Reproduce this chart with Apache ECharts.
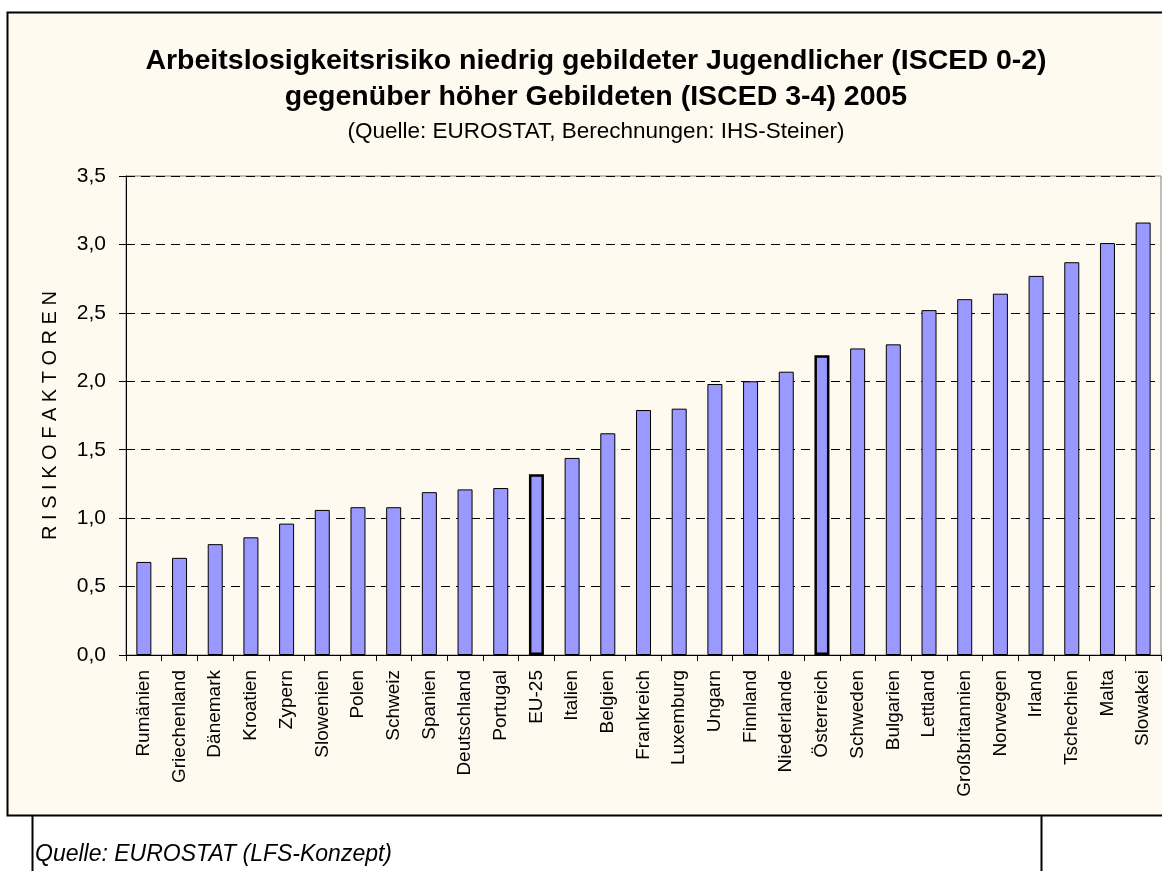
<!DOCTYPE html>
<html lang="de">
<head>
    <meta charset="UTF-8">
    <title>Arbeitslosigkeitsrisiko 2005</title>
    <script src="https://cdn.jsdelivr.net/npm/echarts@6/dist/echarts.min.js"></script>
    <style>
        html, body { margin: 0; padding: 0; background: #fff; }
        #chart { width: 1162px; height: 871px; }
    </style>
</head>
<body>
    <div id="chart"></div>
    <script>
        // Länder, sortiert nach Risikofaktor
        const laender = ['Rumänien', 'Griechenland', 'Dänemark', 'Kroatien', 'Zypern', 'Slowenien', 'Polen', 'Schweiz',
            'Spanien', 'Deutschland', 'Portugal', 'EU-25', 'Italien', 'Belgien', 'Frankreich', 'Luxemburg', 'Ungarn',
            'Finnland', 'Niederlande', 'Österreich', 'Schweden', 'Bulgarien', 'Lettland', 'Großbritannien', 'Norwegen',
            'Irland', 'Tschechien', 'Malta', 'Slowakei'];
        const risiko = [0.68, 0.71, 0.81, 0.86, 0.96, 1.06, 1.08, 1.08, 1.19, 1.21, 1.22, 1.32, 1.44, 1.62, 1.79, 1.80,
            1.98, 2.00, 2.07, 2.19, 2.24, 2.27, 2.52, 2.60, 2.64, 2.77, 2.87, 3.01, 3.16];
        const hervorgehoben = ['EU-25', 'Österreich'];
        const yTicks = [0, 0.5, 1, 1.5, 2, 2.5, 3, 3.5];

        const font = 'Arial, "Liberation Sans", sans-serif';
        const chart = echarts.init(document.getElementById('chart'));

        const option = {
            backgroundColor: '#ffffff',
            animation: false,
            textStyle: { fontFamily: font },
            graphic: [
                // Rahmen des Diagramms
                { type: 'rect', z: -10, shape: { x: 7.5, y: 12.5, width: 1170, height: 803 },
                  style: { fill: '#fffaef', stroke: '#000', lineWidth: 2 } },
                // Linien unter dem Diagramm
                { type: 'line', shape: { x1: 32.5, y1: 816, x2: 32.5, y2: 871 }, style: { stroke: '#000', lineWidth: 2 } },
                { type: 'line', shape: { x1: 1041.5, y1: 816, x2: 1041.5, y2: 871 }, style: { stroke: '#000', lineWidth: 2 } },
                { type: 'text', left: 35, top: 843,
                  style: { text: 'Quelle: EUROSTAT (LFS-Konzept)', font: 'italic 23px ' + font, fill: '#000' } }
            ],
            title: [
                { text: 'Arbeitslosigkeitsrisiko niedrig gebildeter Jugendlicher (ISCED 0-2)\ngegenüber höher Gebildeten (ISCED 3-4) 2005',
                  left: 591, top: 38, textAlign: 'center',
                  textStyle: { fontSize: 28.5, fontWeight: 'bold', color: '#000', lineHeight: 36, fontFamily: font } },
                { text: '(Quelle: EUROSTAT, Berechnungen: IHS-Steiner)',
                  left: 591, top: 115, textAlign: 'center',
                  textStyle: { fontSize: 22.5, fontWeight: 'normal', color: '#000', fontFamily: font } }
            ],
            grid: {
                left: 126, top: 176, right: 1, bottom: 216,
                show: true, borderColor: '#808080', borderWidth: 1, backgroundColor: 'transparent'
            },
            xAxis: {
                type: 'category',
                data: laender,
                axisLine: { lineStyle: { color: '#000', width: 1 } },
                axisTick: { show: true, length: 6, lineStyle: { color: '#000' } },
                axisLabel: { rotate: 90, fontSize: 19, color: '#000', margin: 15, interval: 0, fontFamily: font }
            },
            yAxis: {
                type: 'value',
                min: 0, max: 3.5, interval: 0.5,
                name: 'R I S I K O F A K T O R E N',
                nameLocation: 'middle',
                nameGap: 66,
                nameRotate: 90,
                nameTextStyle: { fontSize: 20, color: '#000', fontFamily: font },
                axisLine: { show: true, lineStyle: { color: '#000', width: 1 } },
                axisTick: { show: true, inside: false, length: 7, lineStyle: { color: '#000' } },
                axisLabel: {
                    fontSize: 21, color: '#000', margin: 20, fontFamily: font,
                    formatter: v => yTicks.includes(v) ? v.toFixed(1).replace('.', ',') : ''
                },
                splitLine: { show: true, lineStyle: { color: '#000', type: [9, 6], width: 1 } }
            },
            series: [{
                type: 'bar',
                barWidth: 15,
                data: risiko.map((v, i) => {
                    const h = hervorgehoben.includes(laender[i]);
                    return {
                        value: v,
                        itemStyle: { color: '#9999ff', borderColor: '#000', borderWidth: h ? 2.5 : 1 }
                    };
                })
            }]
        };
        chart.setOption(option);
    </script>
</body>
</html>
